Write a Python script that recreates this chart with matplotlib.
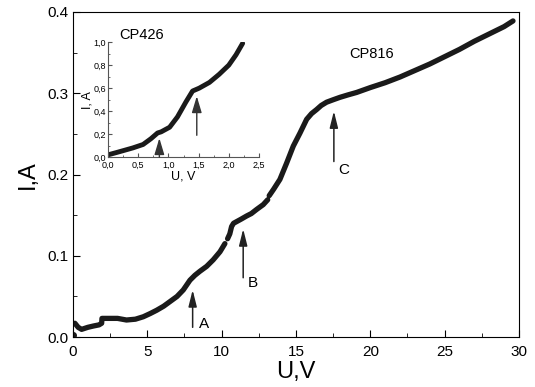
import numpy as np
import matplotlib.pyplot as plt
from matplotlib.ticker import MultipleLocator, FormatStrFormatter, FuncFormatter

plt.rcParams.update({
    "font.family": "sans-serif",
    "font.sans-serif": ["Liberation Sans", "DejaVu Sans"],
    "xtick.direction": "in",
    "ytick.direction": "in",
})

# --- main curve (CP816); NaN = small gap in the trace ---
u_main = [0.13, 0.35, 0.58, 1.0, 1.37, 1.75, 1.93, 1.95, 2.49, 3.0, 3.6, 4.2, 4.73,
          5.2, 5.63, 6.1, 6.52, 7.0, 7.42, 7.87, 8.2, 8.54, 8.99, 9.43, 9.89, 10.22,
          np.nan, 10.4, 10.55, 10.67, 10.8, 11.0, 11.3, 11.68, 12.0, 12.35, 12.8, 13.1,
          np.nan, 13.2, 13.5, 13.92, 14.37, 14.82, 15.27, 15.72, 16.05, 16.39, 16.7,
          17.06, 17.5, 17.96, 18.5, 19.08, 20.0, 21.0, 22.0, 23.0, 24.0, 25.0, 26.0,
          27.0, 28.0, 29.0, 29.6]
i_main = [0.017, 0.012, 0.0095, 0.012, 0.0136, 0.015, 0.017, 0.023, 0.023, 0.023,
          0.021, 0.022, 0.025, 0.029, 0.033, 0.038, 0.0436, 0.050, 0.058, 0.070, 0.076,
          0.081, 0.087, 0.095, 0.105, 0.115, np.nan, 0.121, 0.127, 0.136, 0.140, 0.142,
          0.145, 0.149, 0.152, 0.157, 0.163, 0.169, np.nan, 0.174, 0.182, 0.194,
          0.214, 0.235, 0.251, 0.268, 0.275, 0.280, 0.285, 0.289, 0.292, 0.295, 0.298,
          0.301, 0.307, 0.313, 0.320, 0.328, 0.336, 0.345, 0.354, 0.364, 0.373, 0.382,
          0.389]
u_dot, i_dot = [0.02], [0.0025]

# arrows: (x, tip, tail, label, label_x, label_y)
arrows = [(8.05, 0.058, 0.012, "A", 8.8, 0.016),
          (11.45, 0.133, 0.073, "B", 12.1, 0.066),
          (17.55, 0.278, 0.216, "C", 18.2, 0.206)]

# --- inset curve (CP426) ---
u_ins = [0.0, 0.14, 0.41, 0.58, 0.71, 0.82, 0.88, 1.02, 1.15, 1.29, 1.40, 1.51,
         1.68, 1.84, 2.0, 2.12, 2.23]
i_ins = [0.02, 0.04, 0.08, 0.11, 0.16, 0.21, 0.22, 0.26, 0.35, 0.48, 0.575, 0.60,
         0.65, 0.72, 0.80, 0.89, 0.99]
arrows_ins = [(0.85, 0.165, 0.0), (1.47, 0.53, 0.19)]

fig = plt.figure(figsize=(5.35, 3.87), dpi=100)
ax = fig.add_axes([0.1364, 0.129, 0.8336, 0.84])

ax.plot(u_main, i_main, color="#1a1a1a", lw=3.8, solid_capstyle="round",
        solid_joinstyle="round")
ax.plot(u_dot, i_dot, "o", color="#1a1a1a", ms=4)

for x, tip, tail, lab, lx, ly in arrows:
    ax.annotate("", xy=(x, tip), xytext=(x, tail),
                arrowprops=dict(arrowstyle="-|>,head_length=1.0,head_width=0.25",
                                color="#222222", lw=1.1, shrinkA=0, shrinkB=0))
    ax.text(lx, ly, lab, fontsize=11, ha="center", va="center")

ax.text(20.1, 0.348, "CP816", fontsize=10.5, ha="center", va="center")

ax.set_xlim(0, 30)
ax.set_ylim(0, 0.4)
ax.xaxis.set_major_locator(MultipleLocator(5))
ax.xaxis.set_minor_locator(MultipleLocator(2.5))
ax.yaxis.set_major_locator(MultipleLocator(0.1))
ax.yaxis.set_minor_locator(MultipleLocator(0.05))
ax.yaxis.set_major_formatter(FormatStrFormatter("%.1f"))
ax.tick_params(which="major", length=5, labelsize=11)
ax.tick_params(axis="x", which="major", pad=6)
ax.tick_params(which="minor", length=3)
ax.set_xlabel("U,V", fontsize=17, labelpad=1)
ax.set_ylabel("I,A", fontsize=17, labelpad=6)

# --- inset ---
axi = fig.add_axes([0.202, 0.594, 0.282, 0.297])
axi.plot(u_ins, i_ins, color="#1a1a1a", lw=3.5, solid_capstyle="round",
         solid_joinstyle="round")
for x, tip, tail in arrows_ins:
    axi.annotate("", xy=(x, tip), xytext=(x, tail),
                 arrowprops=dict(arrowstyle="-|>,head_length=1.0,head_width=0.3",
                                 color="#333333", lw=1.0, shrinkA=0, shrinkB=0))
axi.text(0.55, 1.06, "CP426", fontsize=10.5, ha="center", va="center", clip_on=False)
axi.set_xlim(0, 2.5)
axi.set_ylim(0, 1.0)
axi.spines["top"].set_visible(False)
axi.spines["right"].set_visible(False)
for s in ("left", "bottom"):
    axi.spines[s].set_color("#555555")
    axi.spines[s].set_linewidth(0.8)
axi.xaxis.set_major_locator(MultipleLocator(0.5))
axi.xaxis.set_minor_locator(MultipleLocator(0.25))
axi.yaxis.set_major_locator(MultipleLocator(0.2))
axi.yaxis.set_minor_locator(MultipleLocator(0.1))
comma = FuncFormatter(lambda v, p: f"{v:.1f}".replace(".", ","))
axi.xaxis.set_major_formatter(comma)
axi.yaxis.set_major_formatter(comma)
axi.tick_params(which="major", length=3, labelsize=6.5, color="#555555")
axi.tick_params(axis="x", which="major", pad=3)
axi.tick_params(axis="y", which="major", pad=1.5)
axi.tick_params(which="minor", length=1.5, color="#555555")
axi.set_xlabel("U, V", fontsize=9, labelpad=0)
axi.set_ylabel("I, A", fontsize=9, labelpad=0)
axi.patch.set_alpha(0)

fig.savefig("out.png", dpi=100)
